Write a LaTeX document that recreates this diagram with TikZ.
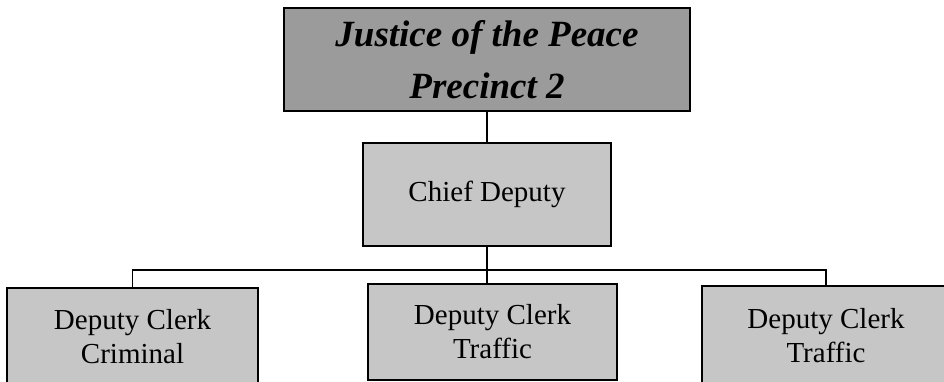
\documentclass[tikz,border=0pt]{standalone}
\usepackage{fontspec}
\setmainfont{Liberation Serif}
\definecolor{topgray}{HTML}{9B9B9B}
\definecolor{boxgray}{HTML}{C6C6C6}
\begin{document}
\begin{tikzpicture}[x=1pt,y=1pt,
  box/.style={draw=black, line width=1.8pt, fill=boxgray, inner sep=0pt, align=center},
  topbox/.style={box, fill=topgray, font=\fontsize{37}{52}\selectfont\bfseries\itshape},
  midbox/.style={box, font=\fontsize{29}{34}\selectfont},
  lowbox/.style={box, font=\fontsize{29}{34}\selectfont},
  link/.style={draw=black, line width=1.5pt}]
\useasboundingbox (0,0) rectangle (944,382);
\clip (0,0) rectangle (944,382);
\fill[white] (0,0) rectangle (944,382);
\node[topbox, minimum width=406pt, minimum height=103pt] (top) at (487,322.5) {Justice of the Peace\\Precinct 2};
\node[midbox, minimum width=248pt, minimum height=103pt] (chief) at (487,187.5) {Chief Deputy};
\node[lowbox, minimum width=251pt, minimum height=98pt] (left) at (132.5,45) {Deputy Clerk\\Criminal};
\node[lowbox, minimum width=249pt, minimum height=96pt] (mid) at (492.5,50) {Deputy Clerk\\Traffic};
\node[lowbox, minimum width=248pt, minimum height=100pt] (right) at (826,46) {Deputy Clerk\\Traffic};
\coordinate (bus) at (486,112);
\draw[link] (top.south) -- (chief.north);
\draw[link] (chief.south) -- (chief.south |- mid.north);
\draw[link] (left.north) -- (left.north |- bus) -- (right.north |- bus) -- (right.north);
\end{tikzpicture}
\end{document}
